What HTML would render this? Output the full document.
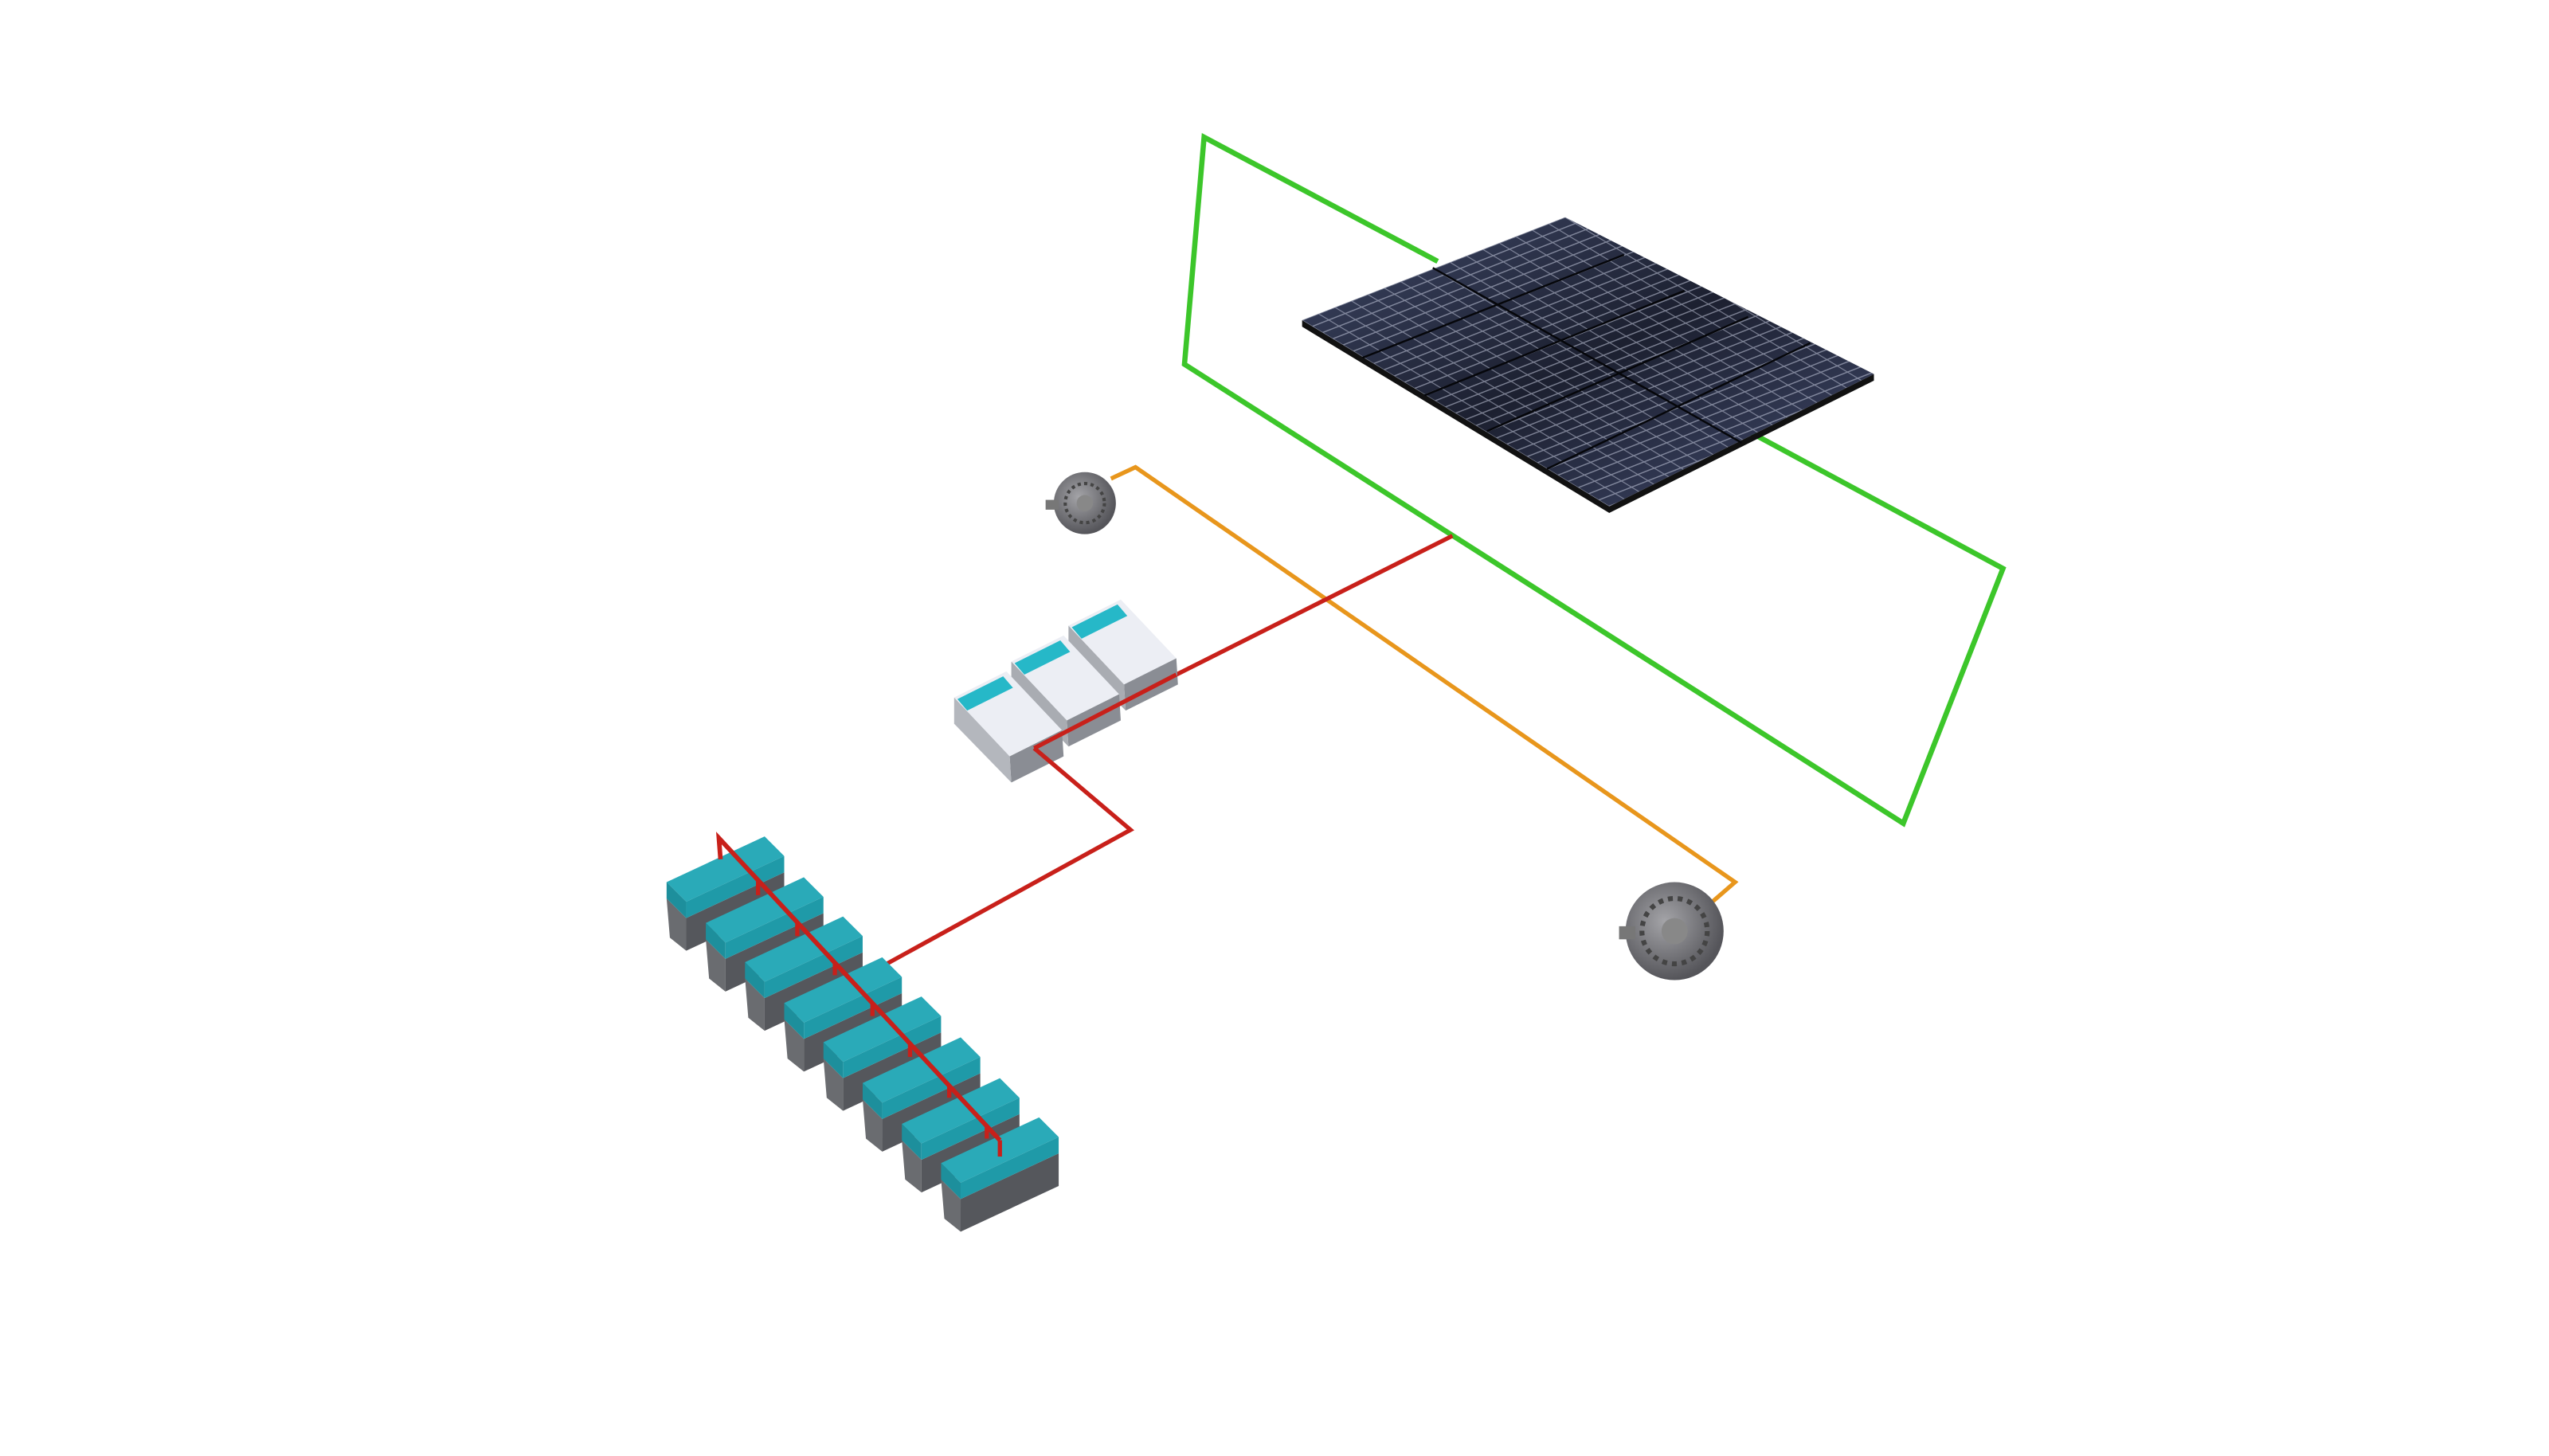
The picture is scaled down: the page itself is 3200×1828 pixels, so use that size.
<!DOCTYPE html>
<html><head><meta charset="utf-8"><style>html,body{margin:0;padding:0;background:#fff}svg{display:block}</style></head>
<body>
<svg width="3200" height="1828" viewBox="0 0 1560.2 891.3" xmlns="http://www.w3.org/2000/svg">
<defs>
<linearGradient id="pg" x1="0" y1="0" x2="1" y2="1"><stop offset="0" stop-color="#3e4766"/><stop offset="0.5" stop-color="#1c2030"/><stop offset="1" stop-color="#414a6c"/></linearGradient>
<pattern id="grid" width="0.0625" height="0.0333" patternUnits="userSpaceOnUse"><rect width="0.0625" height="0.0333" fill="none" stroke="#c8cde0" stroke-width="0.004"/></pattern>
<clipPath id="pc"><polygon points="797,196 958,133 1147,229 985,310"/></clipPath>
<radialGradient id="alt" cx="0.4" cy="0.4" r="0.6"><stop offset="0" stop-color="#a4a4a8"/><stop offset="1" stop-color="#55555a"/></radialGradient>
</defs>
<!-- green loop -->
<polyline points="880,160 737,84 725,223 1165,504 1226,348 1072,265" fill="none" stroke="#3cc62a" stroke-width="3.2"/>
<!-- solar panel -->
<polygon points="797,196 797,200 985,314 1147,233 1147,229 985,310" fill="#111"/>
<polygon points="797,196 958,133 1147,229 985,310" fill="url(#pg)"/>
<g clip-path="url(#pc)">
<g transform="matrix(161,-63,188,114,797,196)" opacity="0.55">
<rect x="0" y="0" width="1.2" height="1.2" fill="url(#grid)"/>
</g>
</g>
<g stroke="#05060a" stroke-width="1.2">
<line x1="877" y1="164" x2="1066" y2="271"/>
<line x1="834" y1="219" x2="994" y2="156"/>
<line x1="872" y1="242" x2="1031" y2="178"/>
<line x1="910" y1="264" x2="1070" y2="194"/>
<line x1="947" y1="287" x2="1108" y2="210"/>
</g>
<!-- orange -->
<polyline points="680,293 695,286 1062,540 1047,553" fill="none" stroke="#e8961c" stroke-width="2.6"/>
<!-- red -->
<polyline points="889,328 720,413" fill="none" stroke="#c8201a" stroke-width="2.6"/>
<!-- alternators -->
<g transform="translate(664,308)">
<circle r="19" fill="url(#alt)"/><circle r="12" fill="none" stroke="#444" stroke-width="2" stroke-dasharray="2 2"/><circle r="5" fill="#888"/>
<rect x="-24" y="-2" width="8" height="6" fill="#777"/>
</g>
<g transform="translate(1025,570)">
<circle r="30" fill="url(#alt)"/><circle r="20" fill="none" stroke="#444" stroke-width="3" stroke-dasharray="3 3"/><circle r="8" fill="#888"/>
<rect x="-34" y="-3" width="10" height="8" fill="#777"/>
</g>
<!-- inverters -->
<g transform="translate(654,383)">
<polygon points="0,0 32,-16 66,20 34,36" fill="#eceef4"/>
<polygon points="2,1 30,-13 36,-6 8,8" fill="#26b8c8"/>
<polygon points="34,36 66,20 67,36 35,52" fill="#8a8d94"/>
<polygon points="0,0 34,36 35,52 0,16" fill="#a9acb2"/>
</g>
<g transform="translate(619,405)">
<polygon points="0,0 32,-16 66,20 34,36" fill="#eceef4"/>
<polygon points="2,1 30,-13 36,-6 8,8" fill="#26b8c8"/>
<polygon points="34,36 66,20 67,36 35,52" fill="#8a8d94"/>
<polygon points="0,0 34,36 35,52 0,16" fill="#a9acb2"/>
</g>
<g transform="translate(584,427)">
<polygon points="0,0 32,-16 66,20 34,36" fill="#eceef4"/>
<polygon points="2,1 30,-13 36,-6 8,8" fill="#26b8c8"/>
<polygon points="34,36 66,20 67,36 35,52" fill="#8a8d94"/>
<polygon points="0,0 34,36 35,52 0,16" fill="#b4b7bd"/>
</g>
<polyline points="633,458 720,413" fill="none" stroke="#c8201a" stroke-width="2.6"/>
<polyline points="633,458 692,508 530,597" fill="none" stroke="#c8201a" stroke-width="2.6"/>
<!-- batteries -->
<g>
<g transform="translate(408,540)"><polygon points="0,10 12,22 12,42 2,34" fill="#6a6c70"/><polygon points="12,22 72,-6 72,14 12,42" fill="#55575c"/><polygon points="0,0 60,-28 72,-16 12,12" fill="#2aaab8"/><polygon points="0,0 12,12 12,22 0,10" fill="#1d8f9c"/><polygon points="12,12 72,-16 72,-6 12,22" fill="#1f9aa8"/></g>
<g transform="translate(432,565)"><polygon points="0,10 12,22 12,42 2,34" fill="#6a6c70"/><polygon points="12,22 72,-6 72,14 12,42" fill="#55575c"/><polygon points="0,0 60,-28 72,-16 12,12" fill="#2aaab8"/><polygon points="0,0 12,12 12,22 0,10" fill="#1d8f9c"/><polygon points="12,12 72,-16 72,-6 12,22" fill="#1f9aa8"/></g>
<g transform="translate(456,589)"><polygon points="0,10 12,22 12,42 2,34" fill="#6a6c70"/><polygon points="12,22 72,-6 72,14 12,42" fill="#55575c"/><polygon points="0,0 60,-28 72,-16 12,12" fill="#2aaab8"/><polygon points="0,0 12,12 12,22 0,10" fill="#1d8f9c"/><polygon points="12,12 72,-16 72,-6 12,22" fill="#1f9aa8"/></g>
<g transform="translate(480,614)"><polygon points="0,10 12,22 12,42 2,34" fill="#6a6c70"/><polygon points="12,22 72,-6 72,14 12,42" fill="#55575c"/><polygon points="0,0 60,-28 72,-16 12,12" fill="#2aaab8"/><polygon points="0,0 12,12 12,22 0,10" fill="#1d8f9c"/><polygon points="12,12 72,-16 72,-6 12,22" fill="#1f9aa8"/></g>
<g transform="translate(504,638)"><polygon points="0,10 12,22 12,42 2,34" fill="#6a6c70"/><polygon points="12,22 72,-6 72,14 12,42" fill="#55575c"/><polygon points="0,0 60,-28 72,-16 12,12" fill="#2aaab8"/><polygon points="0,0 12,12 12,22 0,10" fill="#1d8f9c"/><polygon points="12,12 72,-16 72,-6 12,22" fill="#1f9aa8"/></g>
<g transform="translate(528,663)"><polygon points="0,10 12,22 12,42 2,34" fill="#6a6c70"/><polygon points="12,22 72,-6 72,14 12,42" fill="#55575c"/><polygon points="0,0 60,-28 72,-16 12,12" fill="#2aaab8"/><polygon points="0,0 12,12 12,22 0,10" fill="#1d8f9c"/><polygon points="12,12 72,-16 72,-6 12,22" fill="#1f9aa8"/></g>
<g transform="translate(552,688)"><polygon points="0,10 12,22 12,42 2,34" fill="#6a6c70"/><polygon points="12,22 72,-6 72,14 12,42" fill="#55575c"/><polygon points="0,0 60,-28 72,-16 12,12" fill="#2aaab8"/><polygon points="0,0 12,12 12,22 0,10" fill="#1d8f9c"/><polygon points="12,12 72,-16 72,-6 12,22" fill="#1f9aa8"/></g>
<g transform="translate(576,712)"><polygon points="0,10 12,22 12,42 2,34" fill="#6a6c70"/><polygon points="12,22 72,-6 72,14 12,42" fill="#55575c"/><polygon points="0,0 60,-28 72,-16 12,12" fill="#2aaab8"/><polygon points="0,0 12,12 12,22 0,10" fill="#1d8f9c"/><polygon points="12,12 72,-16 72,-6 12,22" fill="#1f9aa8"/></g>
</g>
<polyline points="441,526 440,513 612,698" fill="none" stroke="#c8201a" stroke-width="2.8"/>
<g stroke="#c8201a" stroke-width="2.6">
<line x1="464" y1="538" x2="464" y2="548"/><line x1="488" y1="564" x2="488" y2="573"/><line x1="511" y1="589" x2="511" y2="597"/><line x1="534" y1="614" x2="534" y2="622"/><line x1="557" y1="639" x2="557" y2="647"/><line x1="581" y1="664" x2="581" y2="672"/><line x1="604" y1="689" x2="604" y2="697"/><line x1="612" y1="698" x2="612" y2="708"/>
</g>
</svg>
</body></html>
